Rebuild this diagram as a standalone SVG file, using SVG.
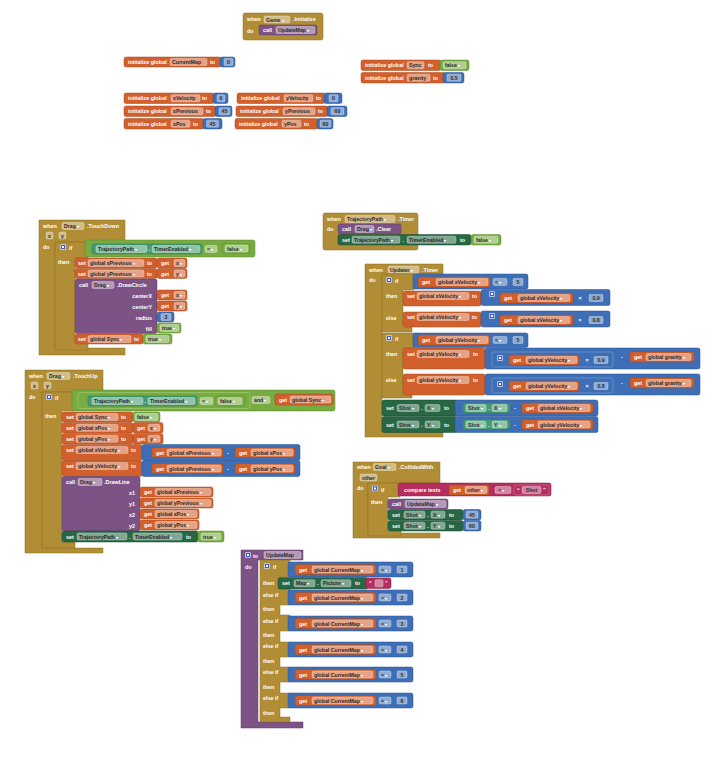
<svg xmlns="http://www.w3.org/2000/svg" width="725" height="760" viewBox="0 0 725 760">
<style>
text{font-family:"Liberation Sans",Arial,sans-serif;font-weight:bold;font-size:5.4px;fill:#fff}
.ev{fill:#b18e35;stroke:#8c6f25;stroke-width:.5}
.or{fill:#d2602c;stroke:#a7481d;stroke-width:.5}
.bl{fill:#3e6fb6;stroke:#2b5390;stroke-width:.5}
.bl2{fill:#3e6fb6;stroke:#7b9fd6;stroke-width:.6}
.gr{fill:#78ab42;stroke:#5a8a2c;stroke-width:.5}
.gr2{fill:#78ab42;stroke:#a8cf7c;stroke-width:.6}
.dg{fill:#276744;stroke:#1a4a30;stroke-width:.5}
.tg{fill:#449a71;stroke:#2f7654;stroke-width:.5}
.pu{fill:#7d5386;stroke:#5e3c66;stroke-width:.5}
.mg{fill:#b42e5f;stroke:#8b2046;stroke-width:.5}
.mg2{fill:#b42e5f;stroke:#d77a9c;stroke-width:.6}
.f{fill:#fff;fill-opacity:.42;stroke:#fff;stroke-opacity:.6;stroke-width:.5}
.v{fill:#2b2b2b;font-size:5.2px}
.n{text-anchor:middle}
.e{text-anchor:end}
.a{fill:#fff;font-size:4px}
</style>
<defs>
<symbol id="gear" viewBox="0 0 6 6"><rect x=".4" y=".4" width="5.2" height="5.2" rx=".8" fill="#3d5bd6" stroke="#fff" stroke-width=".7"/><rect x="2" y="2" width="2" height="2" fill="#fff"/></symbol>
</defs>
<rect width="725" height="760" fill="#fff"/>

<!-- no connectors: blocks snap together directly -->
<g id="connectors"/>

<g id="game-initialize">
<rect class="ev" x="243" y="13" width="80" height="27" rx="2"/>
<text x="247" y="21">when</text>
<rect class="f" x="264" y="16" width="26" height="7" rx="1.5"/>
<text class="v" x="266" y="21.5">Game<tspan class="a"> ▾</tspan></text>
<text x="293" y="21">.Initialize</text>
<text x="247" y="33">do</text>
<rect class="pu" x="259" y="25" width="58" height="10" rx="1.5"/>
<text x="263" y="32">call</text>
<rect class="f" x="276" y="26.5" width="39" height="7" rx="1.5"/>
<text class="v" x="278" y="32">UpdateMap<tspan class="a"> ▾</tspan></text>
</g>

<g id="init-currentmap">
<rect class="or" x="124" y="57" width="97" height="10" rx="2"/>
<text x="128" y="64">initialize global</text>
<rect class="f" x="170" y="58.5" width="37" height="7" rx="1.5"/>
<text class="v" x="172" y="64">CurrentMap</text>
<text x="210" y="64">to</text>
<rect class="bl" x="220" y="57" width="15" height="10" rx="2"/>
<rect class="f" x="224" y="58.5" width="9" height="7" rx="1"/>
<text class="v n" x="228.5" y="64">0</text>
</g>

<g id="init-sync">
<rect class="or" x="361" y="60" width="80" height="10.5" rx="2"/>
<text x="365" y="67.3">initialize global</text>
<rect class="f" x="407" y="61.7" width="17" height="7" rx="1.5"/>
<text class="v" x="409" y="67.3">Sync</text>
<text x="428" y="67.3">to</text>
<rect class="gr" x="440" y="60" width="29" height="10.5" rx="2"/>
<rect class="f" x="443" y="61.7" width="23" height="7" rx="1.5"/>
<text class="v" x="445" y="67.3">false<tspan class="a"> ▾</tspan></text>
</g>

<g id="init-gravity">
<rect class="or" x="361" y="72.5" width="84" height="10.5" rx="2"/>
<text x="365" y="79.8">initialize global</text>
<rect class="f" x="407" y="74.2" width="23" height="7" rx="1.5"/>
<text class="v" x="409" y="79.8">gravity</text>
<text x="433" y="79.8">to</text>
<rect class="bl" x="443" y="72.5" width="21" height="10.5" rx="2"/>
<rect class="f" x="447" y="74.2" width="14" height="7" rx="1"/>
<text class="v n" x="454" y="79.8">0.5</text>
</g>

<g id="init-xvelocity">
<rect class="or" x="124" y="93" width="90" height="10.5" rx="2"/>
<text x="128" y="100.3">initialize global</text>
<rect class="f" x="171" y="94.7" width="29" height="7" rx="1.5"/>
<text class="v" x="173" y="100.3">xVelocity</text>
<text x="202" y="100.3">to</text>
<rect class="bl" x="213" y="93" width="15" height="10.5" rx="2"/>
<rect class="f" x="217" y="94.7" width="8" height="7" rx="1"/>
<text class="v n" x="221" y="100.3">0</text>
</g>

<g id="init-xprevious">
<rect class="or" x="124" y="106" width="92" height="10.5" rx="2"/>
<text x="128" y="113.3">initialize global</text>
<rect class="f" x="171" y="107.7" width="32" height="7" rx="1.5"/>
<text class="v" x="173" y="113.3">xPrevious</text>
<text x="206" y="113.3">to</text>
<rect class="bl" x="215" y="106" width="17" height="10.5" rx="2"/>
<rect class="f" x="219" y="107.7" width="11" height="7" rx="1"/>
<text class="v n" x="224.5" y="113.3">45</text>
</g>

<g id="init-xpos">
<rect class="or" x="124" y="118.5" width="80" height="10.5" rx="2"/>
<text x="128" y="125.8">initialize global</text>
<rect class="f" x="171" y="120.2" width="19" height="7" rx="1.5"/>
<text class="v" x="173" y="125.8">xPos</text>
<text x="193" y="125.8">to</text>
<rect class="bl" x="203" y="118.5" width="19" height="10.5" rx="2"/>
<rect class="f" x="206.5" y="120.2" width="12" height="7" rx="1"/>
<text class="v n" x="212.5" y="125.8">45</text>
</g>

<g id="init-yvelocity">
<rect class="or" x="237" y="93" width="88" height="10.5" rx="2"/>
<text x="241" y="100.3">initialize global</text>
<rect class="f" x="284" y="94.7" width="29" height="7" rx="1.5"/>
<text class="v" x="286" y="100.3">yVelocity</text>
<text x="316" y="100.3">to</text>
<rect class="bl" x="324" y="93" width="18" height="10.5" rx="2"/>
<rect class="f" x="329" y="94.7" width="9" height="7" rx="1"/>
<text class="v n" x="333.5" y="100.3">0</text>
</g>

<g id="init-yprevious">
<rect class="or" x="236" y="106" width="92" height="10.5" rx="2"/>
<text x="240" y="113.3">initialize global</text>
<rect class="f" x="283" y="107.7" width="32" height="7" rx="1.5"/>
<text class="v" x="285" y="113.3">yPrevious</text>
<text x="318" y="113.3">to</text>
<rect class="bl" x="327" y="106" width="20" height="10.5" rx="2"/>
<rect class="f" x="331" y="107.7" width="13" height="7" rx="1"/>
<text class="v n" x="337.5" y="113.3">60</text>
</g>

<g id="init-ypos">
<rect class="or" x="235" y="118.5" width="83" height="10.5" rx="2"/>
<text x="239" y="125.8">initialize global</text>
<rect class="f" x="282" y="120.2" width="19" height="7" rx="1.5"/>
<text class="v" x="284" y="125.8">yPos</text>
<text x="304" y="125.8">to</text>
<rect class="bl" x="317" y="118.5" width="16" height="10.5" rx="2"/>
<rect class="f" x="320" y="120.2" width="11" height="7" rx="1"/>
<text class="v n" x="325.5" y="125.8">60</text>
</g>

<g id="drag-touchdown">
<path class="ev" d="M39 220H125V242H55V348H125V355H39Z"/>
<text x="43" y="228">when</text>
<rect class="f" x="62" y="222.5" width="22" height="7" rx="1.5"/>
<text class="v" x="64" y="228">Drag<tspan class="a"> ▾</tspan></text>
<text x="87" y="228">.TouchDown</text>
<rect class="f" x="46" y="232" width="7" height="7" rx="1.5"/>
<text class="v n" x="49.5" y="237.5">x</text>
<rect class="f" x="59" y="232" width="7" height="7" rx="1.5"/>
<text class="v n" x="62.5" y="237.5">y</text>
<text x="43" y="249">do</text>
<path class="ev" d="M55 242H88V258H75V343H88V350H55Z"/>
<use href="#gear" x="60" y="244" width="6" height="6"/>
<text x="69" y="250">if</text>
<text x="58" y="264">then</text>
<rect class="gr" x="85" y="240" width="170" height="17" rx="2"/>
<rect class="tg" x="92" y="244" width="110" height="10" rx="2"/>
<rect class="f" x="96" y="245.5" width="51" height="7" rx="1.5"/>
<text class="v" x="98" y="251">TrajectoryPath<tspan class="a"> ▾</tspan></text>
<text x="148.5" y="251">.</text>
<rect class="f" x="152" y="245.5" width="48" height="7" rx="1.5"/>
<text class="v" x="154" y="251">TimerEnabled<tspan class="a"> ▾</tspan></text>
<rect class="f" x="205" y="245.5" width="12" height="7" rx="1.5"/>
<text class="v" x="207" y="251">=<tspan class="a"> ▾</tspan></text>
<rect class="gr" x="222" y="243.5" width="28" height="10" rx="2"/>
<rect class="f" x="225" y="245" width="23" height="7" rx="1.5"/>
<text class="v" x="227" y="250.5">false<tspan class="a"> ▾</tspan></text>
<rect class="or" x="75" y="258" width="82" height="10" rx="2"/>
<text x="78" y="265">set</text>
<rect class="f" x="88" y="259.5" width="56" height="7" rx="1.5"/>
<text class="v" x="90" y="265">global xPrevious<tspan class="a"> ▾</tspan></text>
<text x="147" y="265">to</text>
<rect class="or" x="157" y="258" width="30" height="10" rx="2"/>
<text x="161" y="265">get</text>
<rect class="f" x="174" y="259.5" width="11" height="7" rx="1.5"/>
<text class="v" x="176" y="265">x<tspan class="a"> ▾</tspan></text>
<rect class="or" x="75" y="268.5" width="82" height="10" rx="2"/>
<text x="78" y="275.5">set</text>
<rect class="f" x="88" y="270" width="56" height="7" rx="1.5"/>
<text class="v" x="90" y="275.5">global yPrevious<tspan class="a"> ▾</tspan></text>
<text x="147" y="275.5">to</text>
<rect class="or" x="157" y="268.5" width="30" height="10" rx="2"/>
<text x="161" y="275.5">get</text>
<rect class="f" x="174" y="270" width="11" height="7" rx="1.5"/>
<text class="v" x="176" y="275.5">y<tspan class="a"> ▾</tspan></text>
<rect class="pu" x="75" y="279" width="82" height="54.5" rx="2"/>
<text x="79" y="287">call</text>
<rect class="f" x="92" y="281.5" width="22" height="7" rx="1.5"/>
<text class="v" x="94" y="287">Drag<tspan class="a"> ▾</tspan></text>
<text x="117" y="287">.DrawCircle</text>
<text class="e" x="152" y="297.5">centerX</text>
<text class="e" x="152" y="308.5">centerY</text>
<text class="e" x="152" y="319.5">radius</text>
<text class="e" x="152" y="330.5">fill</text>
<rect class="or" x="157" y="290" width="30" height="10" rx="2"/>
<text x="161" y="297">get</text>
<rect class="f" x="174" y="291.5" width="11" height="7" rx="1.5"/>
<text class="v" x="176" y="297">x<tspan class="a"> ▾</tspan></text>
<rect class="or" x="157" y="301" width="30" height="10" rx="2"/>
<text x="161" y="308">get</text>
<rect class="f" x="174" y="302.5" width="11" height="7" rx="1.5"/>
<text class="v" x="176" y="308">y<tspan class="a"> ▾</tspan></text>
<rect class="bl" x="157" y="312" width="17" height="10" rx="2"/>
<rect class="f" x="161" y="313.5" width="10" height="7" rx="1"/>
<text class="v n" x="166" y="319">3</text>
<rect class="gr" x="157" y="323" width="24" height="10" rx="2"/>
<rect class="f" x="160" y="324.5" width="19" height="7" rx="1.5"/>
<text class="v" x="162" y="330">true<tspan class="a"> ▾</tspan></text>
<rect class="or" x="75" y="334" width="68" height="10" rx="2"/>
<text x="78" y="341">set</text>
<rect class="f" x="88" y="335.5" width="43" height="7" rx="1.5"/>
<text class="v" x="90" y="341">global Sync<tspan class="a"> ▾</tspan></text>
<text x="134" y="341">to</text>
<rect class="gr" x="143" y="334" width="29" height="10" rx="2"/>
<rect class="f" x="146" y="335.5" width="23" height="7" rx="1.5"/>
<text class="v" x="148" y="341">true<tspan class="a"> ▾</tspan></text>
</g>

<g id="trajectorypath-timer">
<rect class="ev" x="323" y="213" width="95" height="37" rx="2"/>
<text x="327" y="221">when</text>
<rect class="f" x="345" y="215.5" width="50" height="7" rx="1.5"/>
<text class="v" x="347" y="221">TrajectoryPath<tspan class="a"> ▾</tspan></text>
<text x="398" y="221">.Timer</text>
<text x="327" y="231">do</text>
<rect class="pu" x="338" y="224" width="63" height="10" rx="2"/>
<text x="342" y="231">call</text>
<rect class="f" x="355" y="225.5" width="19" height="7" rx="1.5"/>
<text class="v" x="357" y="231">Drag<tspan class="a"> ▾</tspan></text>
<text x="376" y="231">.Clear</text>
<rect class="dg" x="338" y="234.5" width="133" height="10.5" rx="2"/>
<text x="342" y="241.8">set</text>
<rect class="f" x="352" y="236.2" width="48" height="7" rx="1.5"/>
<text class="v" x="354" y="241.8">TrajectoryPath<tspan class="a"> ▾</tspan></text>
<text x="402.5" y="241.8">.</text>
<rect class="f" x="407" y="236.2" width="49" height="7" rx="1.5"/>
<text class="v" x="409" y="241.8">TimerEnabled<tspan class="a"> ▾</tspan></text>
<text x="460" y="241.8">to</text>
<rect class="gr" x="471" y="234.5" width="30" height="10.5" rx="2"/>
<rect class="f" x="474" y="236.2" width="24" height="7" rx="1.5"/>
<text class="v" x="476" y="241.8">false<tspan class="a"> ▾</tspan></text>
</g>

<g id="updater-timer">
<path class="ev" d="M365 264H443V274H382V432H443V437H365Z"/>
<text x="369" y="271.5">when</text>
<rect class="f" x="388" y="266" width="31" height="7" rx="1.5"/>
<text class="v" x="390" y="271.5">Updater<tspan class="a"> ▾</tspan></text>
<text x="422" y="271.5">.Timer</text>
<text x="369" y="282">do</text>
<!-- first if/else: horizontal velocity -->
<path class="ev" d="M382 274H414V290H403V327H412V332H382Z"/>
<use href="#gear" x="386" y="277" width="6" height="6"/>
<text x="395" y="283">if</text>
<text x="386" y="298">then</text>
<text x="386" y="320">else</text>
<rect class="bl" x="413" y="274" width="115" height="15" rx="2"/>
<rect class="or" x="418" y="277" width="72" height="10" rx="2"/>
<text x="422" y="284">get</text>
<rect class="f" x="436" y="278.5" width="52" height="7" rx="1.5"/>
<text class="v" x="438" y="284">global xVelocity<tspan class="a"> ▾</tspan></text>
<rect class="f" x="493" y="278.5" width="14" height="7" rx="1.5"/>
<text class="v" x="495" y="284">&lt;<tspan class="a"> ▾</tspan></text>
<rect class="f" x="513" y="278.5" width="10" height="7" rx="1"/>
<text class="v n" x="518" y="284">5</text>
<rect class="or" x="403" y="291" width="78" height="15" rx="2"/>
<text x="407" y="298">set</text>
<rect class="f" x="417" y="292.5" width="52" height="7" rx="1.5"/>
<text class="v" x="419" y="298">global xVelocity<tspan class="a"> ▾</tspan></text>
<text x="472" y="298">to</text>
<rect class="bl" x="481" y="289.5" width="129" height="16" rx="2"/>
<use href="#gear" x="489" y="291" width="6" height="6"/>
<rect class="or" x="500" y="293" width="73" height="10" rx="2"/>
<text x="504" y="300">get</text>
<rect class="f" x="518" y="294.5" width="52" height="7" rx="1.5"/>
<text class="v" x="520" y="300">global xVelocity<tspan class="a"> ▾</tspan></text>
<text class="n" x="580" y="300">×</text>
<rect class="f" x="589" y="294.5" width="14" height="7" rx="1"/>
<text class="v n" x="596" y="300">0.9</text>
<rect class="or" x="403" y="312" width="78" height="15" rx="2"/>
<text x="407" y="319">set</text>
<rect class="f" x="417" y="313.5" width="52" height="7" rx="1.5"/>
<text class="v" x="419" y="319">global xVelocity<tspan class="a"> ▾</tspan></text>
<text x="472" y="319">to</text>
<rect class="bl" x="481" y="311" width="129" height="16" rx="2"/>
<use href="#gear" x="489" y="313" width="6" height="6"/>
<rect class="or" x="500" y="315" width="73" height="10" rx="2"/>
<text x="504" y="322">get</text>
<rect class="f" x="518" y="316.5" width="52" height="7" rx="1.5"/>
<text class="v" x="520" y="322">global xVelocity<tspan class="a"> ▾</tspan></text>
<text class="n" x="580" y="322">×</text>
<rect class="f" x="589" y="316.5" width="14" height="7" rx="1"/>
<text class="v n" x="596" y="322">0.8</text>
<!-- second if/else: vertical velocity with gravity -->
<path class="ev" d="M382 333H414V348H403V393H412V398H382Z"/>
<use href="#gear" x="386" y="335" width="6" height="6"/>
<text x="395" y="341">if</text>
<text x="386" y="356">then</text>
<text x="386" y="382">else</text>
<rect class="bl" x="413" y="333" width="115" height="14.5" rx="2"/>
<rect class="or" x="418" y="335" width="72" height="10" rx="2"/>
<text x="422" y="342">get</text>
<rect class="f" x="436" y="336.5" width="52" height="7" rx="1.5"/>
<text class="v" x="438" y="342">global yVelocity<tspan class="a"> ▾</tspan></text>
<rect class="f" x="493" y="336.5" width="14" height="7" rx="1.5"/>
<text class="v" x="495" y="342">&lt;<tspan class="a"> ▾</tspan></text>
<rect class="f" x="513" y="336.5" width="10" height="7" rx="1"/>
<text class="v n" x="518" y="342">5</text>
<rect class="or" x="403" y="348" width="82" height="21" rx="2"/>
<text x="407" y="356">set</text>
<rect class="f" x="417" y="350.5" width="52" height="7" rx="1.5"/>
<text class="v" x="419" y="356">global yVelocity<tspan class="a"> ▾</tspan></text>
<text x="473" y="356">to</text>
<rect class="bl" x="485" y="348" width="215" height="21" rx="2"/>
<rect class="bl2" x="492" y="352" width="121" height="15" rx="2"/>
<use href="#gear" x="497" y="355" width="6" height="6"/>
<rect class="or" x="509" y="355" width="70" height="10" rx="2"/>
<text x="513" y="362">get</text>
<rect class="f" x="526" y="356.5" width="51" height="7" rx="1.5"/>
<text class="v" x="528" y="362">global yVelocity<tspan class="a"> ▾</tspan></text>
<text class="n" x="587" y="362">×</text>
<rect class="f" x="594" y="356.5" width="14" height="7" rx="1"/>
<text class="v n" x="601" y="362">0.9</text>
<text class="n" x="622" y="359">-</text>
<rect class="or" x="630" y="352" width="64" height="10" rx="2"/>
<text x="634" y="359">get</text>
<rect class="f" x="646" y="353.5" width="45" height="7" rx="1.5"/>
<text class="v" x="648" y="359">global gravity<tspan class="a"> ▾</tspan></text>
<rect class="or" x="403" y="374" width="82" height="21" rx="2"/>
<text x="407" y="382">set</text>
<rect class="f" x="417" y="376.5" width="52" height="7" rx="1.5"/>
<text class="v" x="419" y="382">global yVelocity<tspan class="a"> ▾</tspan></text>
<text x="473" y="382">to</text>
<rect class="bl" x="485" y="374" width="215" height="21" rx="2"/>
<rect class="bl2" x="492" y="378" width="121" height="15" rx="2"/>
<use href="#gear" x="497" y="381" width="6" height="6"/>
<rect class="or" x="509" y="381" width="70" height="10" rx="2"/>
<text x="513" y="388">get</text>
<rect class="f" x="526" y="382.5" width="51" height="7" rx="1.5"/>
<text class="v" x="528" y="388">global yVelocity<tspan class="a"> ▾</tspan></text>
<text class="n" x="587" y="388">×</text>
<rect class="f" x="594" y="382.5" width="14" height="7" rx="1"/>
<text class="v n" x="601" y="388">0.8</text>
<text class="n" x="622" y="385">-</text>
<rect class="or" x="630" y="378" width="64" height="10" rx="2"/>
<text x="634" y="385">get</text>
<rect class="f" x="646" y="379.5" width="45" height="7" rx="1.5"/>
<text class="v" x="648" y="385">global gravity<tspan class="a"> ▾</tspan></text>
<!-- move the shot -->
<rect class="dg" x="382" y="400" width="75" height="16" rx="2"/>
<text x="386" y="410">set</text>
<rect class="f" x="397" y="404.5" width="22" height="7" rx="1.5"/>
<text class="v" x="399" y="410">Shot<tspan class="a"> ▾</tspan></text>
<text x="421" y="410">.</text>
<rect class="f" x="425" y="404.5" width="15" height="7" rx="1.5"/>
<text class="v" x="427" y="410">X<tspan class="a"> ▾</tspan></text>
<text x="444" y="410">to</text>
<rect class="bl" x="455" y="400" width="143" height="16" rx="2"/>
<rect class="tg" x="463" y="403" width="47" height="10" rx="2"/>
<rect class="f" x="466" y="404.5" width="20" height="7" rx="1.5"/>
<text class="v" x="468" y="410">Shot<tspan class="a"> ▾</tspan></text>
<text x="488" y="410">.</text>
<rect class="f" x="492" y="404.5" width="15" height="7" rx="1.5"/>
<text class="v" x="494" y="410">X<tspan class="a"> ▾</tspan></text>
<text class="n" x="515" y="410">-</text>
<rect class="or" x="522" y="403" width="71" height="10" rx="2"/>
<text x="526" y="410">get</text>
<rect class="f" x="538" y="404.5" width="52" height="7" rx="1.5"/>
<text class="v" x="540" y="410">global xVelocity<tspan class="a"> ▾</tspan></text>
<rect class="dg" x="382" y="416.5" width="75" height="16" rx="2"/>
<text x="386" y="426.5">set</text>
<rect class="f" x="397" y="421" width="22" height="7" rx="1.5"/>
<text class="v" x="399" y="426.5">Shot<tspan class="a"> ▾</tspan></text>
<text x="421" y="426.5">.</text>
<rect class="f" x="425" y="421" width="15" height="7" rx="1.5"/>
<text class="v" x="427" y="426.5">Y<tspan class="a"> ▾</tspan></text>
<text x="444" y="426.5">to</text>
<rect class="bl" x="455" y="416.5" width="143" height="16" rx="2"/>
<rect class="tg" x="463" y="419.5" width="47" height="10" rx="2"/>
<rect class="f" x="466" y="421" width="20" height="7" rx="1.5"/>
<text class="v" x="468" y="426.5">Shot<tspan class="a"> ▾</tspan></text>
<text x="488" y="426.5">.</text>
<rect class="f" x="492" y="421" width="15" height="7" rx="1.5"/>
<text class="v" x="494" y="426.5">Y<tspan class="a"> ▾</tspan></text>
<text class="n" x="515" y="426.5">-</text>
<rect class="or" x="522" y="419.5" width="71" height="10" rx="2"/>
<text x="526" y="426.5">get</text>
<rect class="f" x="538" y="421" width="52" height="7" rx="1.5"/>
<text class="v" x="540" y="426.5">global yVelocity<tspan class="a"> ▾</tspan></text>
</g>

<g id="drag-touchup">
<path class="ev" d="M25 370H103V392H42V548H103V553H25Z"/>
<text x="29" y="378">when</text>
<rect class="f" x="47" y="372.5" width="23" height="7" rx="1.5"/>
<text class="v" x="49" y="378">Drag<tspan class="a"> ▾</tspan></text>
<text x="73" y="378">.TouchUp</text>
<rect class="f" x="31" y="382" width="7" height="7" rx="1.5"/>
<text class="v n" x="34.5" y="387.5">x</text>
<rect class="f" x="44" y="382" width="7" height="7" rx="1.5"/>
<text class="v n" x="47.5" y="387.5">y</text>
<text x="29" y="399">do</text>
<path class="ev" d="M42 392H74V411H62V542H75V548H42Z"/>
<use href="#gear" x="46" y="394" width="6" height="6"/>
<text x="55" y="400">if</text>
<text x="45" y="418">then</text>
<rect class="gr" x="72" y="390" width="263" height="21" rx="2"/>
<rect class="gr2" x="78" y="392.5" width="172" height="16" rx="2"/>
<rect class="tg" x="88" y="396" width="109" height="10" rx="2"/>
<rect class="f" x="92" y="397.5" width="51" height="7" rx="1.5"/>
<text class="v" x="94" y="403">TrajectoryPath<tspan class="a"> ▾</tspan></text>
<text x="144.5" y="403">.</text>
<rect class="f" x="148" y="397.5" width="47" height="7" rx="1.5"/>
<text class="v" x="150" y="403">TimerEnabled<tspan class="a"> ▾</tspan></text>
<rect class="f" x="200" y="397.5" width="13" height="7" rx="1.5"/>
<text class="v" x="202" y="403">=<tspan class="a"> ▾</tspan></text>
<rect class="gr" x="215" y="396" width="30" height="10" rx="2"/>
<rect class="f" x="218" y="397.5" width="24" height="7" rx="1.5"/>
<text class="v" x="220" y="403">false<tspan class="a"> ▾</tspan></text>
<rect class="f" x="252" y="396.5" width="18" height="7" rx="1.5"/>
<text class="v" x="254" y="402">and<tspan class="a"> ▾</tspan></text>
<rect class="or" x="275" y="394" width="58" height="11" rx="2"/>
<text x="279" y="401.5">get</text>
<rect class="f" x="290" y="396" width="41" height="7" rx="1.5"/>
<text class="v" x="292" y="401.5">global Sync<tspan class="a"> ▾</tspan></text>
<rect class="or" x="62" y="412" width="71" height="10" rx="2"/>
<text x="66" y="419">set</text>
<rect class="f" x="76" y="413.5" width="42" height="7" rx="1.5"/>
<text class="v" x="78" y="419">global Sync<tspan class="a"> ▾</tspan></text>
<text x="121" y="419">to</text>
<rect class="gr" x="133" y="412" width="27" height="10" rx="2"/>
<rect class="f" x="135" y="413.5" width="23" height="7" rx="1.5"/>
<text class="v" x="137" y="419">false<tspan class="a"> ▾</tspan></text>
<rect class="or" x="62" y="422.5" width="71" height="10.5" rx="2"/>
<text x="66" y="430">set</text>
<rect class="f" x="76" y="424.3" width="42" height="7" rx="1.5"/>
<text class="v" x="78" y="430">global xPos<tspan class="a"> ▾</tspan></text>
<text x="121" y="430">to</text>
<rect class="or" x="133" y="422.5" width="30" height="10.5" rx="2"/>
<text x="137" y="430">get</text>
<rect class="f" x="148" y="424.3" width="12" height="7" rx="1.5"/>
<text class="v" x="150" y="430">x<tspan class="a"> ▾</tspan></text>
<rect class="or" x="62" y="433.5" width="71" height="10.5" rx="2"/>
<text x="66" y="441">set</text>
<rect class="f" x="76" y="435.3" width="42" height="7" rx="1.5"/>
<text class="v" x="78" y="441">global yPos<tspan class="a"> ▾</tspan></text>
<text x="121" y="441">to</text>
<rect class="or" x="133" y="433.5" width="30" height="10.5" rx="2"/>
<text x="137" y="441">get</text>
<rect class="f" x="148" y="435.3" width="12" height="7" rx="1.5"/>
<text class="v" x="150" y="441">y<tspan class="a"> ▾</tspan></text>
<rect class="or" x="62" y="444.5" width="80" height="16" rx="2"/>
<text x="66" y="452">set</text>
<rect class="f" x="76" y="446.5" width="52" height="7" rx="1.5"/>
<text class="v" x="78" y="452">global xVelocity<tspan class="a"> ▾</tspan></text>
<text x="131" y="452">to</text>
<rect class="bl" x="142" y="444.5" width="158" height="16" rx="2"/>
<rect class="or" x="152" y="447.5" width="71" height="10" rx="2"/>
<text x="156" y="454.5">get</text>
<rect class="f" x="167" y="449" width="54" height="7" rx="1.5"/>
<text class="v" x="169" y="454.5">global xPrevious<tspan class="a"> ▾</tspan></text>
<text class="n" x="228" y="454.5">-</text>
<rect class="or" x="235" y="447.5" width="60" height="10" rx="2"/>
<text x="239" y="454.5">get</text>
<rect class="f" x="251" y="449" width="42" height="7" rx="1.5"/>
<text class="v" x="253" y="454.5">global xPos<tspan class="a"> ▾</tspan></text>
<rect class="or" x="62" y="460.5" width="80" height="16" rx="2"/>
<text x="66" y="468">set</text>
<rect class="f" x="76" y="462.5" width="52" height="7" rx="1.5"/>
<text class="v" x="78" y="468">global yVelocity<tspan class="a"> ▾</tspan></text>
<text x="131" y="468">to</text>
<rect class="bl" x="142" y="460.5" width="158" height="16" rx="2"/>
<rect class="or" x="152" y="463.5" width="71" height="10" rx="2"/>
<text x="156" y="470.5">get</text>
<rect class="f" x="167" y="465" width="54" height="7" rx="1.5"/>
<text class="v" x="169" y="470.5">global yPrevious<tspan class="a"> ▾</tspan></text>
<text class="n" x="228" y="470.5">-</text>
<rect class="or" x="235" y="463.5" width="60" height="10" rx="2"/>
<text x="239" y="470.5">get</text>
<rect class="f" x="251" y="465" width="42" height="7" rx="1.5"/>
<text class="v" x="253" y="470.5">global yPos<tspan class="a"> ▾</tspan></text>
<rect class="pu" x="62" y="476.5" width="78" height="54.5" rx="2"/>
<text x="66" y="484">call</text>
<rect class="f" x="78" y="478.5" width="24" height="7" rx="1.5"/>
<text class="v" x="80" y="484">Drag<tspan class="a"> ▾</tspan></text>
<text x="104" y="484">.DrawLine</text>
<text class="e" x="135" y="494.5">x1</text>
<text class="e" x="135" y="505.5">y1</text>
<text class="e" x="135" y="516.5">x2</text>
<text class="e" x="135" y="527.5">y2</text>
<rect class="or" x="140" y="487" width="73" height="10" rx="2"/>
<text x="144" y="494">get</text>
<rect class="f" x="155" y="488.5" width="56" height="7" rx="1.5"/>
<text class="v" x="157" y="494">global xPrevious<tspan class="a"> ▾</tspan></text>
<rect class="or" x="140" y="498" width="73" height="10" rx="2"/>
<text x="144" y="505">get</text>
<rect class="f" x="155" y="499.5" width="56" height="7" rx="1.5"/>
<text class="v" x="157" y="505">global yPrevious<tspan class="a"> ▾</tspan></text>
<rect class="or" x="140" y="509" width="59" height="10" rx="2"/>
<text x="144" y="516">get</text>
<rect class="f" x="155" y="510.5" width="42" height="7" rx="1.5"/>
<text class="v" x="157" y="516">global xPos<tspan class="a"> ▾</tspan></text>
<rect class="or" x="140" y="520" width="59" height="10" rx="2"/>
<text x="144" y="527">get</text>
<rect class="f" x="155" y="521.5" width="42" height="7" rx="1.5"/>
<text class="v" x="157" y="527">global yPos<tspan class="a"> ▾</tspan></text>
<rect class="dg" x="62" y="531" width="136" height="11" rx="2"/>
<text x="66" y="538.5">set</text>
<rect class="f" x="77" y="533" width="50" height="7" rx="1.5"/>
<text class="v" x="79" y="538.5">TrajectoryPath<tspan class="a"> ▾</tspan></text>
<text x="129" y="538.5">.</text>
<rect class="f" x="133" y="533" width="49" height="7" rx="1.5"/>
<text class="v" x="135" y="538.5">TimerEnabled<tspan class="a"> ▾</tspan></text>
<text x="186" y="538.5">to</text>
<rect class="gr" x="198" y="531" width="26" height="11" rx="2"/>
<rect class="f" x="201" y="533" width="20" height="7" rx="1.5"/>
<text class="v" x="203" y="538.5">true<tspan class="a"> ▾</tspan></text>
</g>

<g id="goal-collidedwith">
<path class="ev" d="M353 462H440V483H368V533H440V538H353Z"/>
<text x="357" y="469">when</text>
<rect class="f" x="373" y="463.5" width="23" height="7" rx="1.5"/>
<text class="v" x="375" y="469">Goal<tspan class="a"> ▾</tspan></text>
<text x="399" y="469">.CollidedWith</text>
<rect class="f" x="360" y="474" width="17" height="7" rx="1.5"/>
<text class="v" x="362" y="479.5">other</text>
<text x="357" y="490">do</text>
<path class="ev" d="M368 483H400V497H388V531H401V536H368Z"/>
<use href="#gear" x="372" y="485.5" width="6" height="6"/>
<text x="381" y="491.5">if</text>
<text x="371" y="503.5">then</text>
<rect class="mg" x="398" y="483" width="153" height="13" rx="2"/>
<text x="404" y="491.5">compare texts</text>
<rect class="or" x="449" y="485" width="40" height="10" rx="2"/>
<text x="453" y="492">get</text>
<rect class="f" x="465" y="486.5" width="22" height="7" rx="1.5"/>
<text class="v" x="467" y="492">other<tspan class="a"> ▾</tspan></text>
<rect class="f" x="495" y="486.5" width="16" height="7" rx="1.5"/>
<text class="v" x="498" y="492">=<tspan class="a"> ▾</tspan></text>
<rect class="mg2" x="514" y="485" width="35" height="10" rx="2"/>
<text x="517" y="492">“</text>
<rect class="f" x="522" y="486.5" width="19" height="7" rx="1.5"/>
<text class="v n" x="531.5" y="492">Shot</text>
<text x="543" y="492">”</text>
<rect class="pu" x="388" y="499" width="60" height="10" rx="2"/>
<text x="392" y="506">call</text>
<rect class="f" x="405" y="500.5" width="41" height="7" rx="1.5"/>
<text class="v" x="407" y="506">UpdateMap<tspan class="a"> ▾</tspan></text>
<rect class="dg" x="388" y="509.5" width="75" height="10.5" rx="2"/>
<text x="392" y="516.8">set</text>
<rect class="f" x="404" y="511.2" width="21" height="7" rx="1.5"/>
<text class="v" x="406" y="516.8">Shot<tspan class="a"> ▾</tspan></text>
<text x="427" y="516.8">.</text>
<rect class="f" x="431" y="511.2" width="14" height="7" rx="1.5"/>
<text class="v" x="433" y="516.8">X<tspan class="a"> ▾</tspan></text>
<text x="449" y="516.8">to</text>
<rect class="bl" x="463" y="509.5" width="18" height="10.5" rx="2"/>
<rect class="f" x="466" y="511.2" width="12" height="7" rx="1"/>
<text class="v n" x="472" y="516.8">45</text>
<rect class="dg" x="388" y="520.5" width="75" height="10.5" rx="2"/>
<text x="392" y="527.8">set</text>
<rect class="f" x="404" y="522.2" width="21" height="7" rx="1.5"/>
<text class="v" x="406" y="527.8">Shot<tspan class="a"> ▾</tspan></text>
<text x="427" y="527.8">.</text>
<rect class="f" x="431" y="522.2" width="14" height="7" rx="1.5"/>
<text class="v" x="433" y="527.8">Y<tspan class="a"> ▾</tspan></text>
<text x="449" y="527.8">to</text>
<rect class="bl" x="463" y="520.5" width="18" height="10.5" rx="2"/>
<rect class="f" x="466" y="522.2" width="12" height="7" rx="1"/>
<text class="v n" x="472" y="527.8">60</text>
</g>

<g id="updatemap">
<path class="pu" d="M241 550H303V560H258V722H303V728H241Z"/>
<use href="#gear" x="245" y="552" width="6" height="6"/>
<text x="253" y="558">to</text>
<rect class="f" x="264" y="551.5" width="37" height="7" rx="1.5"/>
<text class="v" x="266" y="557">UpdateMap</text>
<text x="245" y="568.5">do</text>
<path class="ev" d="M260 560H290V577H280V589H290V605H280V615H290V631H280V642H290V657H280V667H290V682H280V693H290V708H280V717H290V722H260Z"/>
<use href="#gear" x="264" y="563" width="6" height="6"/>
<text x="273" y="569">if</text>
<text x="263" y="585">then</text>
<text x="263" y="597">else if</text>
<text x="263" y="610.5">then</text>
<text x="263" y="622.5">else if</text>
<text x="263" y="637">then</text>
<text x="263" y="648">else if</text>
<text x="263" y="663">then</text>
<text x="263" y="674">else if</text>
<text x="263" y="689">then</text>
<text x="263" y="700">else if</text>
<text x="263" y="715">then</text>
<!-- conditions: CurrentMap = 1..6 -->
<rect class="bl" x="288" y="562" width="125" height="15" rx="2"/>
<rect class="or" x="295" y="564.5" width="81" height="10" rx="2"/>
<text x="299" y="571.5">get</text>
<rect class="f" x="312" y="566" width="61" height="7" rx="1.5"/>
<text class="v" x="314" y="571.5">global CurrentMap<tspan class="a"> ▾</tspan></text>
<rect class="f" x="379" y="566" width="12" height="7" rx="1.5"/>
<text class="v" x="381" y="571.5">=<tspan class="a"> ▾</tspan></text>
<rect class="f" x="397" y="566" width="10" height="7" rx="1"/>
<text class="v n" x="402" y="571.5">1</text>
<rect class="dg" x="278" y="577.5" width="90" height="11.5" rx="2"/>
<text x="282" y="585.3">set</text>
<rect class="f" x="294" y="579.8" width="21" height="7" rx="1.5"/>
<text class="v" x="296" y="585.3">Map<tspan class="a"> ▾</tspan></text>
<text x="317" y="585.3">.</text>
<rect class="f" x="321" y="579.8" width="30" height="7" rx="1.5"/>
<text class="v" x="323" y="585.3">Picture<tspan class="a"> ▾</tspan></text>
<text x="355" y="585.3">to</text>
<rect class="mg" x="366" y="578" width="25" height="10.5" rx="2"/>
<text x="369" y="585.3">“</text>
<rect class="f" x="375" y="579.8" width="8" height="7" rx="1"/>
<text x="385" y="585.3">”</text>
<rect class="bl" x="288" y="590" width="125" height="15" rx="2"/>
<rect class="or" x="295" y="592.5" width="81" height="10" rx="2"/>
<text x="299" y="599.5">get</text>
<rect class="f" x="312" y="594" width="61" height="7" rx="1.5"/>
<text class="v" x="314" y="599.5">global CurrentMap<tspan class="a"> ▾</tspan></text>
<rect class="f" x="379" y="594" width="12" height="7" rx="1.5"/>
<text class="v" x="381" y="599.5">=<tspan class="a"> ▾</tspan></text>
<rect class="f" x="397" y="594" width="10" height="7" rx="1"/>
<text class="v n" x="402" y="599.5">2</text>
<rect class="bl" x="288" y="616" width="125" height="15" rx="2"/>
<rect class="or" x="295" y="618.5" width="81" height="10" rx="2"/>
<text x="299" y="625.5">get</text>
<rect class="f" x="312" y="620" width="61" height="7" rx="1.5"/>
<text class="v" x="314" y="625.5">global CurrentMap<tspan class="a"> ▾</tspan></text>
<rect class="f" x="379" y="620" width="12" height="7" rx="1.5"/>
<text class="v" x="381" y="625.5">=<tspan class="a"> ▾</tspan></text>
<rect class="f" x="397" y="620" width="10" height="7" rx="1"/>
<text class="v n" x="402" y="625.5">3</text>
<rect class="bl" x="288" y="642" width="125" height="15" rx="2"/>
<rect class="or" x="295" y="644.5" width="81" height="10" rx="2"/>
<text x="299" y="651.5">get</text>
<rect class="f" x="312" y="646" width="61" height="7" rx="1.5"/>
<text class="v" x="314" y="651.5">global CurrentMap<tspan class="a"> ▾</tspan></text>
<rect class="f" x="379" y="646" width="12" height="7" rx="1.5"/>
<text class="v" x="381" y="651.5">=<tspan class="a"> ▾</tspan></text>
<rect class="f" x="397" y="646" width="10" height="7" rx="1"/>
<text class="v n" x="402" y="651.5">4</text>
<rect class="bl" x="288" y="667" width="125" height="15" rx="2"/>
<rect class="or" x="295" y="669.5" width="81" height="10" rx="2"/>
<text x="299" y="676.5">get</text>
<rect class="f" x="312" y="671" width="61" height="7" rx="1.5"/>
<text class="v" x="314" y="676.5">global CurrentMap<tspan class="a"> ▾</tspan></text>
<rect class="f" x="379" y="671" width="12" height="7" rx="1.5"/>
<text class="v" x="381" y="676.5">=<tspan class="a"> ▾</tspan></text>
<rect class="f" x="397" y="671" width="10" height="7" rx="1"/>
<text class="v n" x="402" y="676.5">5</text>
<rect class="bl" x="288" y="693" width="125" height="15" rx="2"/>
<rect class="or" x="295" y="695.5" width="81" height="10" rx="2"/>
<text x="299" y="702.5">get</text>
<rect class="f" x="312" y="697" width="61" height="7" rx="1.5"/>
<text class="v" x="314" y="702.5">global CurrentMap<tspan class="a"> ▾</tspan></text>
<rect class="f" x="379" y="697" width="12" height="7" rx="1.5"/>
<text class="v" x="381" y="702.5">=<tspan class="a"> ▾</tspan></text>
<rect class="f" x="397" y="697" width="10" height="7" rx="1"/>
<text class="v n" x="402" y="702.5">6</text>
</g>
</svg>
